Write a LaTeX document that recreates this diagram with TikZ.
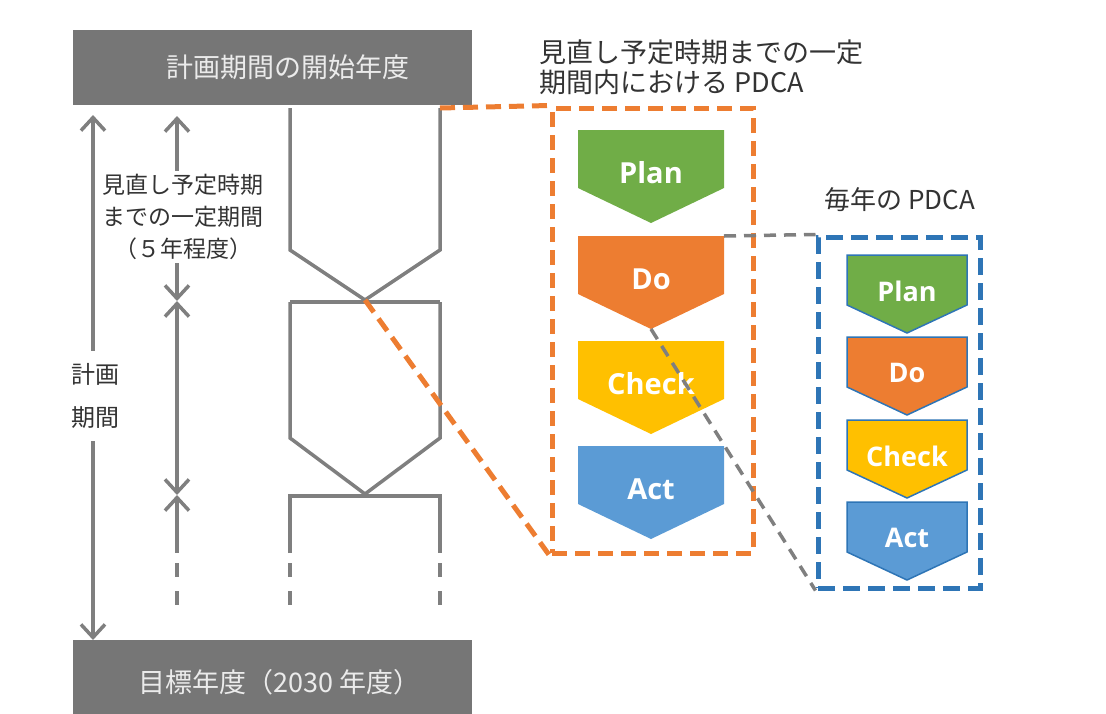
\documentclass[tikz,border=0pt]{standalone}
\usepackage{fontspec}
\setmainfont{Noto Sans CJK JP}
\newfontfamily\pdcafont{Open Sans}
\usetikzlibrary{arrows.meta}
\definecolor{boxgray}{HTML}{767676}
\definecolor{linegray}{HTML}{7F7F7F}
\definecolor{txtgray}{HTML}{333333}
\definecolor{plang}{HTML}{70AD47}
\definecolor{doo}{HTML}{ED7D31}
\definecolor{checky}{HTML}{FFC000}
\definecolor{actb}{HTML}{5B9BD5}
\definecolor{yearb}{HTML}{2E75B6}
\tikzset{
  headbox/.style={fill=boxgray, text=white!92!black, minimum width=399pt,
    font=\fontsize{27}{30}\selectfont},
  dim/.style={draw=linegray, line width=3.5pt},
  cut/.style={dim, dash pattern=on 14pt off 14pt},
  note/.style={text=txtgray, fill=white, align=center},
  spanbox/.style={draw=doo, line width=5pt, dash pattern=on 15pt off 8pt},
  yearbox/.style={draw=yearb, line width=5pt, dash pattern=on 17pt off 8pt},
  spanlink/.style={draw=doo, line width=5pt, dash pattern=on 15pt off 8pt},
  yearlink/.style={draw=linegray, line width=3.5pt, dash pattern=on 12pt off 8pt},
  biglabel/.style={text=white, font={\pdcafont\bfseries\fontsize{29}{30}\selectfont}},
  smalllabel/.style={text=white, font={\pdcafont\bfseries\fontsize{27}{30}\selectfont}},
  title/.style={text=txtgray, anchor=west, align=left}
}
\begin{document}
\begin{tikzpicture}[x=1pt, y=-1pt, >={Straight Barb[length=13pt,width=24pt]}]
  \useasboundingbox (0,0) rectangle (1106,713);

  \node[headbox, minimum height=75pt] (start) at (272.5,67.5) {\hspace*{30pt}計画期間の開始年度};
  \node[headbox, minimum height=84pt] (goal) at (272.5,682) {\hspace*{14pt}目標年度（2030 年度）};

  \coordinate (a0) at (93,115);
  \coordinate (a1) at (93,640);
  \coordinate (t0) at (177,116);
  \coordinate (t1) at (177,301);
  \coordinate (t2) at (177,495);
  \coordinate (t3) at (177,553);
  \coordinate (t4) at (177,563);
  \coordinate (t5) at (177,607);
  \coordinate (s1) at (440,108);
  \coordinate (x1) at (365,300);
  \coordinate (x2) at (365,494);

  \draw[dim] (290,108) -- (290,250) -- (x1) -- (440,250) -- (s1);
  \draw[dim] (290,302) -- (440,302);
  \draw[dim] (290,302) -- (290,438) -- (x2) -- (440,438) -- (440,302);
  \draw[dim] (290,553) -- (290,496) -- (440,496) -- (440,553);
  \draw[cut] (290,563) -- (290,605);
  \draw[cut] (440,563) -- (440,605);

  \draw[dim, <->] (a0) -- (a1);
  \draw[dim, <->] (t0) -- (t1);
  \draw[dim, <->] (t1) -- (t2);
  \draw[dim, <-] (t2) -- (t3);
  \draw[cut] (t4) -- (t5);

  \node[note, inner xsep=2pt, inner ysep=12pt, font=\fontsize{24}{43}\selectfont] (period) at (95,396) {計画\\期間};
  \node[note, inner xsep=0pt, inner ysep=3pt, font=\fontsize{23}{32}\selectfont] (review) at (183,217) {見直し予定時期\\までの一定期間\\（５年程度）};

  \node[title, font=\fontsize{27}{30}\selectfont] (spantitle) at (536,67) {見直し予定時期までの一定\\期間内における PDCA};
  \node[title, font=\fontsize{26}{30}\selectfont] (yeartitle) at (821,200) {毎年の PDCA};

  \node[spanbox, minimum width=201pt, minimum height=445pt] (span) at (652.5,330.5) {};
  \node[yearbox, minimum width=162pt, minimum height=351pt] (year) at (899,412.5) {};

  \foreach \n/\y/\c/\t in {plan/130/plang/Plan, do/236/doo/Do, check/341/checky/Check, act/446/actb/Act}{
    \fill[\c] (578,\y) -- ++(146,0) -- ++(0,58) -- ++(-73,35) -- ++(-73,-35) -- cycle;
    \coordinate (\n-ne) at (724,\y);
    \coordinate (\n-tip) at (651,\y+93);
    \node[biglabel] (\n) at (651,\y+43) {\t};
  }
  \foreach \n/\y/\c/\t in {yplan/255/plang/Plan, ydo/337/doo/Do, ycheck/420/checky/Check, yact/502/actb/Act}{
    \filldraw[fill=\c, draw=yearb, line width=1.5pt] (847,\y) -- ++(120,0) -- ++(0,50) -- ++(-60,28) -- ++(-60,-28) -- cycle;
    \node[smalllabel] (\n) at (907,\y+36) {\t};
  }

  \begin{scope}
    \draw[spanlink] (s1) -- (span.north west);
    \draw[spanlink] (x1) -- (span.south west);
    \draw[yearlink] (do-ne) -- (year.north west);
    \draw[yearlink] (do-tip) -- (year.south west);
  \end{scope}
\end{tikzpicture}
\end{document}
